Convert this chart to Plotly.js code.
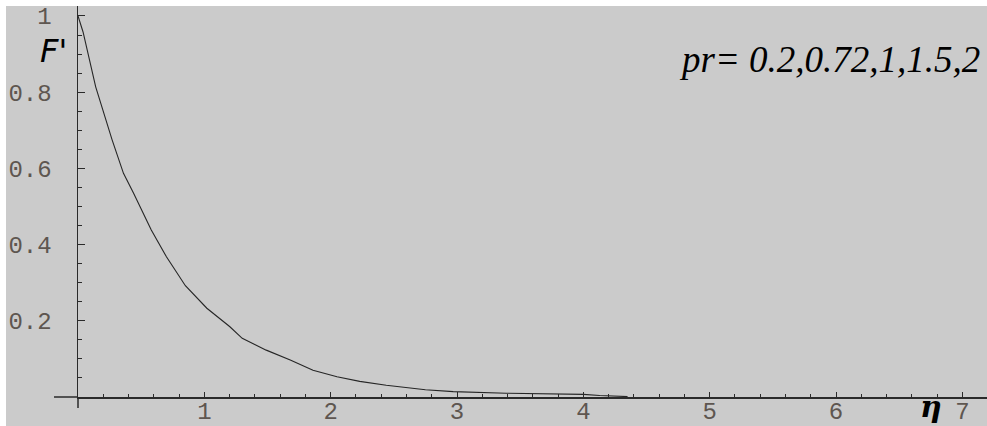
<!DOCTYPE html>
<html>
<head>
<meta charset="utf-8">
<script src="https://cdn.plot.ly/plotly-3.0.1.min.js"></script>
<style>
  html, body { margin: 0; padding: 0; background: #ffffff; }
  #chart { position: absolute; left: 0; top: 0; width: 987px; height: 426px; }
</style>
</head>
<body>
<div id="chart"></div>
<script>
// Velocity profile F'(eta) of the boundary-layer solution
const eta = [0, 0.04, 0.14, 0.27, 0.36, 0.44, 0.58, 0.70, 0.85, 1.02, 1.20, 1.30,
             1.49, 1.68, 1.86, 2.05, 2.23, 2.44, 2.75, 2.97, 3.39, 4.00, 4.13, 4.35];
const fPrime = [1.000, 0.958, 0.814, 0.675, 0.587, 0.535, 0.438, 0.368, 0.292, 0.233, 0.185, 0.154,
                0.123, 0.097, 0.070, 0.053, 0.041, 0.031, 0.019, 0.014, 0.010, 0.007, 0.004, 0.001];

const xTicks = [1, 2, 3, 4, 5, 6, 7];
const xTickText = ['1', '2', '3', '4', '5', '6', '7'];
const yTicks = [0.2, 0.4, 0.6, 0.8, 1];
const yTickText = ['0.2', '0.4', '0.6', '0.8', '1'];
const legendText = 'pr= 0.2,0.72,1,1.5,2';

const bg = '#cbcbcb';
const axisColor = '#2a2a2a';
const tickFont = { family: 'Liberation Mono, monospace', size: 24, color: '#5e5650' };

const trace = {
  x: eta,
  y: fPrime,
  type: 'scatter',
  mode: 'lines',
  line: { color: '#262626', width: 1.1 },
  hoverinfo: 'skip'
};

const layout = {
  width: 987,
  height: 426,
  margin: { l: 78, r: 0, t: 6, b: 29 },
  paper_bgcolor: '#ffffff',
  plot_bgcolor: bg,
  showlegend: false,
  xaxis: {
    range: [0, 7.195],
    showgrid: false,
    zeroline: false,
    showline: true,
    linecolor: axisColor,
    linewidth: 1.5,
    ticks: 'inside',
    ticklen: 5,
    tickwidth: 1,
    tickcolor: axisColor,
    tickvals: xTicks,
    ticktext: xTickText,
    tickfont: tickFont,
    ticklabelstandoff: -8,
    minor: { dtick: 0.2, ticks: 'inside', ticklen: 3, tickwidth: 1, tickcolor: axisColor, showgrid: false }
  },
  yaxis: {
    range: [0, 1.0262],
    showgrid: false,
    zeroline: false,
    showline: true,
    linecolor: axisColor,
    linewidth: 1.5,
    ticks: 'inside',
    ticklen: 7,
    tickwidth: 1,
    tickcolor: axisColor,
    tickvals: yTicks,
    ticktext: yTickText,
    tickfont: tickFont,
    ticklabelstandoff: 20,
    minor: { dtick: 0.05, ticks: 'inside', ticklen: 4, tickwidth: 1, tickcolor: axisColor, showgrid: false }
  },
  shapes: [
    // grey canvas behind the margins (a thin white strip stays at top and left)
    { type: 'rect', xref: 'paper', yref: 'paper', x0: -0.0792, x1: 1, y0: -0.0742, y1: 1,
      layer: 'below', fillcolor: bg, line: { width: 0 } },
    // axis lines continue a little past the origin
    { type: 'line', xref: 'paper', yref: 'paper', x0: -0.0264, x1: 0, y0: 0, y1: 0,
      line: { color: axisColor, width: 1.5 } },
    { type: 'line', xref: 'paper', yref: 'paper', x0: 0, x1: 0, y0: -0.0281, y1: 0,
      line: { color: axisColor, width: 1.5 } }
  ],
  annotations: [
    { xref: 'paper', yref: 'paper', x: -0.027, y: 0.885, xanchor: 'center', yanchor: 'middle',
      text: "F'", showarrow: false,
      font: { family: 'DejaVu Sans, sans-serif', size: 32, color: '#000000', style: 'italic' } },
    { xref: 'paper', yref: 'paper', x: 0.9384, y: -0.024, xanchor: 'center', yanchor: 'middle',
      text: '<b>η</b>', showarrow: false,
      font: { family: 'DejaVu Serif, serif', size: 30, color: '#000000', style: 'italic' } },
    { xref: 'paper', yref: 'paper', x: 0.9945, y: 0.862, xanchor: 'right', yanchor: 'middle',
      text: legendText, showarrow: false,
      font: { family: 'Liberation Serif, serif', size: 37, color: '#000000', style: 'italic' } }
  ]
};

Plotly.newPlot('chart', [trace], layout, { staticPlot: true, displayModeBar: false });
</script>
</body>
</html>
